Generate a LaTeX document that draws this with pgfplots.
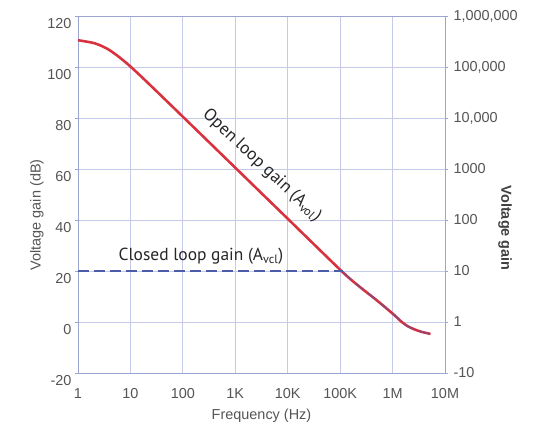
\documentclass[border=0pt]{standalone}
\usepackage{fontspec}
\setmainfont{Liberation Sans}
\newfontfamily\annfont{PT Sans}
\usepackage{pgfplots}
\pgfplotsset{compat=1.18}

\definecolor{gridc}{HTML}{C6CAE8}
\definecolor{framec}{HTML}{9CA5D2}
\definecolor{tickc}{HTML}{555555}
\definecolor{olred}{HTML}{D9323F}
\definecolor{clblue}{HTML}{4B5CA8}

\begin{document}
\begin{tikzpicture}
\begin{axis}[
  at={(0,0)}, anchor=south west,
  scale only axis, width=367bp, height=357bp,
  xmode=log, xmin=1, xmax=1e7,
  ymin=-20, ymax=120,
  clip mode=individual,
  ytick={-20,0,20,40,60,80,100,120},
  ticklabel style={font=\fontsize{14.5}{16}\selectfont, text=tickc},
  tick style={framec, line width=0.6pt},
  major tick length=3bp, tick align=outside,
  axis line style={framec, line width=0.8pt},
  xtick={1,10,100,1000,10000,100000,1000000,10000000},
  xticklabels={1,10,100,1K,10K,100K,1M,10M},
  yticklabels={-20,0,20,40,60,80,100,120},
  ytick pos=left,
  xtick style={draw=none},
  minor xtick={},
  grid=major,
  grid style={gridc, line width=0.8pt},
  yticklabel style={yshift=-8bp},
  xticklabel style={yshift=-9bp},
]
% open loop gain
\addplot[olred, line width=2.6pt, smooth] coordinates {
  (1,110.5) (2,109.4) (3,108) (4,106.6) (6,104) (10,100.2)
  (20,94.4) (50,86.5) (100,80.5) (1000,60.5) (10000,40.5) (100000,20.5)
  (200000,15) (500000,8.5) (1000000,3.3) (1500000,0) (2000000,-1.8)
  (2700000,-3) (3500000,-3.8) (5300000,-4.7)
};
% closed loop gain
\addplot[clblue, line width=1.8pt, dash pattern=on 11bp off 5bp] coordinates {
  (1,20) (115000,20)
};
\addplot[clblue, opacity=0.5, line width=1.6pt, dash pattern=on 11bp off 5bp, smooth] coordinates {
  (115000,19.5) (200000,15) (500000,8.5) (1000000,3.3) (1500000,0)
  (2000000,-1.8) (2700000,-3) (3500000,-3.8) (5300000,-4.7)
};
\node[rotate=-43, font=\annfont\fontsize{17.5}{19}\selectfont, text=black!85]
  at (axis cs:3236,61.4) {Open loop gain (A\textsubscript{vol})};
\node[font=\annfont\fontsize{17.5}{19}\selectfont, text=black!85]
  at (axis cs:222,25.8) {Closed loop gain (A\textsubscript{vcl})};
\node[rotate=90, font=\fontsize{14.5}{16}\selectfont, text=tickc]
  at ([xshift=-41bp]axis cs:1,42) {Voltage gain (dB)};
\node[font=\fontsize{14.5}{16}\selectfont, text=tickc]
  at ([yshift=-43bp]rel axis cs:0.5,0) {Frequency (Hz)};
\node[rotate=-90, font=\bfseries\fontsize{14.5}{16}\selectfont, text=black!75]
  at ([xshift=60bp]axis cs:1e7,36.8) {Voltage gain};
\end{axis}
\begin{axis}[
  at={(0,0)}, anchor=south west,
  scale only axis, width=367bp, height=357bp,
  xmin=0, xmax=7,
  ymin=-20, ymax=120,
  axis x line=none,
  axis y line*=right,
  ytick={-20,0,20,40,60,80,100,120},
  yticklabels={-10,1,10,100,1000,{10,000},{100,000},{1,000,000}},
  ticklabel style={font=\fontsize{14.5}{16}\selectfont, text=tickc},
  tick style={framec, line width=0.6pt},
  major tick length=3bp, tick align=outside,
  axis line style={framec, line width=0.8pt},
  yticklabel style={xshift=2bp},
]
\end{axis}
\pgfresetboundingbox
\useasboundingbox (-78bp,-52bp) rectangle (464bp,373bp);
\end{tikzpicture}
\end{document}
